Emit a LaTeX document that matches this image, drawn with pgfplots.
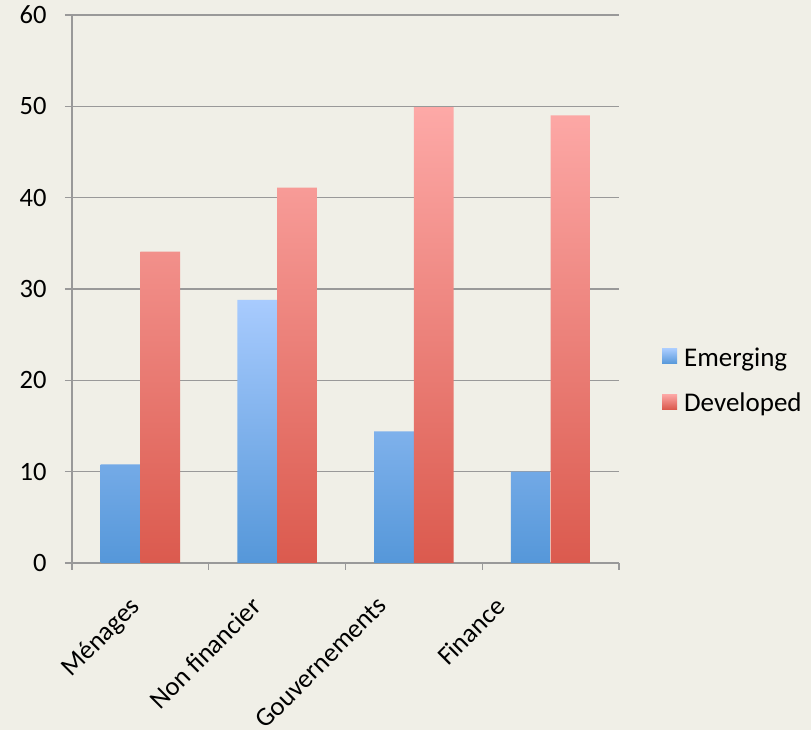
\documentclass[border=0pt]{standalone}
\usepackage{pgfplots}
\pgfplotsset{compat=1.18}
\usepackage{fontspec}
\setmainfont{Carlito}
\definecolor{bgc}{HTML}{F0EFE7}
\definecolor{gridc}{HTML}{999999}
\definecolor{btop}{HTML}{A8CBFE}
\definecolor{bbot}{HTML}{5597D9}
\definecolor{rtop}{HTML}{FDA9A7}
\definecolor{rbot}{HTML}{DB5A4E}
\begin{document}
\begin{tikzpicture}[x=1pt,y=1pt]
\fill[bgc] (0,0) rectangle (811,730);
\useasboundingbox (0,0) rectangle (811,730);
\begin{axis}[
  at={(72pt,167pt)}, anchor=south west,
  scale only axis, width=547pt, height=548pt,
  ybar=0pt, bar width=0.29,
  xmin=-0.5, xmax=3.5, ymin=0, ymax=60,
  ytick={0,10,...,60},
  /pgf/number format/assume math mode=true,
  xtick={-0.5,0.5,1.5,2.5,3.5}, xticklabels={},
  extra x ticks={-0.088,0.801,1.723,2.586},
  extra x tick labels={M\'enages,Non financier,Gouvernements,Finance},
  extra x tick style={major tick length=0pt},
  major tick length=7pt, tick align=outside,
  axis lines*=left,
  axis line style={gridc, line width=1.4pt},
  every tick/.style={gridc, line width=1.4pt},
  ymajorgrids, grid style={gridc, line width=1.4pt},
  tick label style={font=\fontsize{26.5}{30}\selectfont, black},
  x tick label style={rotate=45, anchor=north east, inner sep=0pt},
  xticklabel shift=32pt,
  y tick label style={xshift=-15pt},
  legend style={at={(1.073,0.333)}, anchor=west, draw=none, fill=none,
    font=\fontsize{27}{30}\selectfont, row sep=21pt},
  legend cell align=left,
  legend image code/.code={\path[#1, draw=none] (0pt,-6pt) rectangle (15pt,9pt); \path (15pt,0pt) -- (20pt,0pt);},
]
\addplot[draw=none, top color=btop, bottom color=bbot] coordinates {(0,10.8) (1,28.8) (2,14.4) (3,10.0)};
\addplot[draw=none, top color=rtop, bottom color=rbot] coordinates {(0,34.1) (1,41.1) (2,49.9) (3,49.0)};
\legend{Emerging,Developed}
\end{axis}
\end{tikzpicture}
\end{document}
